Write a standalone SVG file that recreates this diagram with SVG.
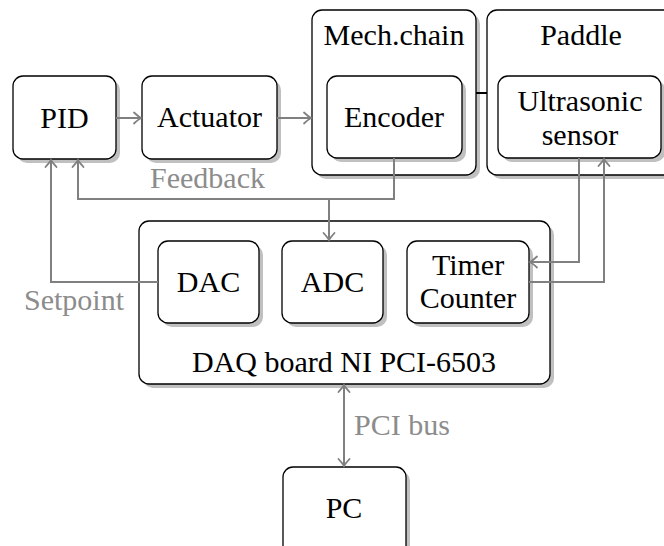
<svg xmlns="http://www.w3.org/2000/svg" width="664" height="546" viewBox="0 0 664 546">
<style>
.box{fill:#fff;stroke:#000;stroke-width:1.3}
.sh{fill:#c0c0c0}
.t{font-family:"Liberation Serif","Times New Roman",serif;font-size:30px;fill:#000;text-anchor:middle}
.g{font-family:"Liberation Serif","Times New Roman",serif;font-size:30px;fill:#8c8c8c}
.c{fill:none;stroke:#808080;stroke-width:2}
</style>
<defs>
<marker id="ah" markerUnits="userSpaceOnUse" markerWidth="14" markerHeight="14" viewBox="-10 -7 12 14" refX="0" refY="0" orient="auto-start-reverse">
<path d="M-7,-5.5 Q-2,-1 0,0 Q-2,1 -7,5.5" fill="none" stroke="#808080" stroke-width="1.8" stroke-linecap="round"/>
</marker>
</defs>
<rect width="664" height="546" fill="#fff"/>

<g id="mech">
<rect class="sh" x="316" y="14" width="164" height="165" rx="10"/>
<rect class="box" x="312" y="10" width="164" height="165" rx="10"/>
<text class="t" x="394" y="45">Mech.chain</text>
</g>
<g id="paddle">
<rect class="sh" x="491" y="14" width="190" height="165" rx="10"/>
<rect class="box" x="487" y="10" width="190" height="165" rx="10"/>
<text class="t" x="581" y="45">Paddle</text>
</g>
<g id="pid">
<rect class="sh" x="17" y="80" width="103" height="83" rx="10"/>
<rect class="box" x="13" y="76" width="103" height="83" rx="10"/>
<text class="t" x="64.5" y="128">PID</text>
</g>
<g id="actuator">
<rect class="sh" x="146" y="80" width="135" height="83" rx="10"/>
<rect class="box" x="142" y="76" width="135" height="83" rx="10"/>
<text class="t" x="209.5" y="127">Actuator</text>
</g>
<g id="encoder">
<rect class="sh" x="331" y="80" width="135" height="82" rx="10"/>
<rect class="box" x="327" y="76" width="135" height="82" rx="10"/>
<text class="t" x="394" y="127">Encoder</text>
</g>
<g id="ultrasonic">
<rect class="sh" x="502" y="80" width="163" height="82" rx="10"/>
<rect class="box" x="498" y="76" width="163" height="82" rx="10"/>
<text class="t" x="580" y="111">Ultrasonic</text>
<text class="t" x="580" y="145">sensor</text>
</g>
<g id="daq">
<rect class="sh" x="143" y="225" width="411" height="163" rx="10"/>
<rect class="box" x="139" y="221" width="411" height="163" rx="10"/>
<text class="t" x="344" y="372">DAQ board NI PCI-6503</text>
</g>
<g id="dac">
<rect class="sh" x="162" y="245" width="101" height="82" rx="10"/>
<rect class="box" x="158" y="241" width="101" height="82" rx="10"/>
<text class="t" x="208.5" y="292">DAC</text>
</g>
<g id="adc">
<rect class="sh" x="286" y="245" width="101" height="82" rx="10"/>
<rect class="box" x="282" y="241" width="101" height="82" rx="10"/>
<text class="t" x="332.5" y="292">ADC</text>
</g>
<g id="timer">
<rect class="sh" x="411" y="245" width="122" height="82" rx="10"/>
<rect class="box" x="407" y="241" width="122" height="82" rx="10"/>
<text class="t" x="468" y="275">Timer</text>
<text class="t" x="468" y="308">Counter</text>
</g>
<g id="pc">
<rect class="sh" x="287" y="471" width="123" height="90" rx="10"/>
<rect class="box" x="283" y="467" width="123" height="90" rx="10"/>
<text class="t" x="344" y="518">PC</text>
</g>

<g id="connectors">
<line x1="476" y1="93" x2="487" y2="93" stroke="#000" stroke-width="2"/>
<path class="c" d="M116,118 H141" marker-end="url(#ah)"/>
<path class="c" d="M277,118 H311" marker-end="url(#ah)"/>
<path class="c" d="M394,158 V199 H78 V160" marker-end="url(#ah)"/>
<path class="c" d="M329,199 V240" marker-end="url(#ah)"/>
<path class="c" d="M158,282 H51 V160" marker-end="url(#ah)"/>
<path class="c" d="M579,158 V262 H530" marker-end="url(#ah)"/>
<path class="c" d="M529,282 H604 V159" marker-end="url(#ah)"/>
<path class="c" d="M344,385 V466" marker-start="url(#ah)" marker-end="url(#ah)"/>
<text class="g" x="150" y="188">Feedback</text>
<text class="g" x="24" y="310">Setpoint</text>
<text class="g" x="354" y="435">PCI bus</text>
</g>
</svg>
